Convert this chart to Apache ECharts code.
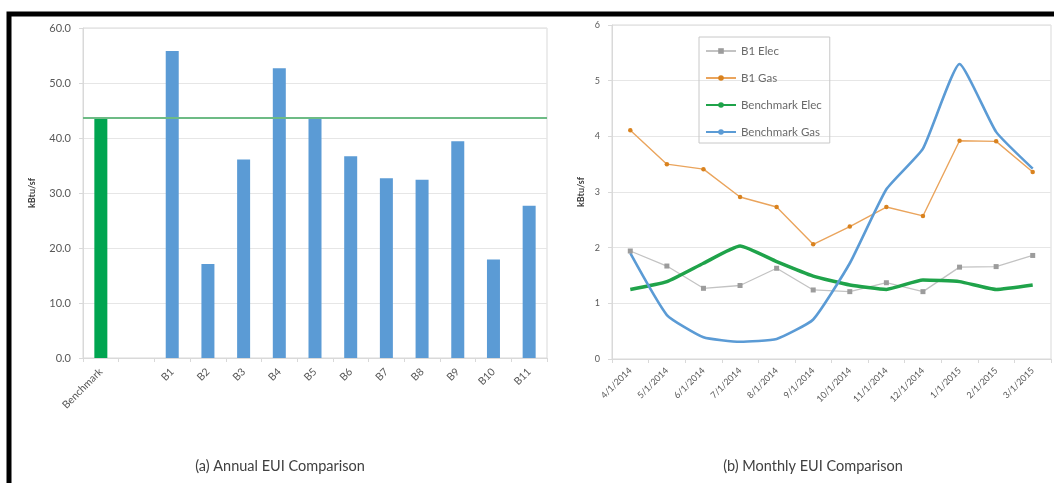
<!DOCTYPE html>
<html>
<head>
<meta charset="utf-8">
<script src="https://cdn.jsdelivr.net/npm/echarts@6/dist/echarts.min.js"></script>
<style>
html,body{margin:0;padding:0;background:#fff;}
#chart{width:1054px;height:483px;}
</style>
</head>
<body>
<div id="chart"></div>
<script>
// ---- Data ----
const annualCategories = ['Benchmark', '', 'B1', 'B2', 'B3', 'B4', 'B5', 'B6', 'B7', 'B8', 'B9', 'B10', 'B11'];
const annualValues = [43.7, null, 55.8, 17.1, 36.1, 52.7, 43.7, 36.7, 32.7, 32.4, 39.4, 17.9, 27.7];
const benchmarkAnnual = 43.7;
const annualTicks = [0, 10, 20, 30, 40, 50, 60];

const months = ['4/1/2014', '5/1/2014', '6/1/2014', '7/1/2014', '8/1/2014', '9/1/2014', '10/1/2014', '11/1/2014', '12/1/2014', '1/1/2015', '2/1/2015', '3/1/2015'];
const b1Elec = [1.94, 1.67, 1.27, 1.32, 1.63, 1.24, 1.21, 1.37, 1.21, 1.65, 1.66, 1.86];
const b1Gas = [4.11, 3.50, 3.41, 2.91, 2.73, 2.06, 2.38, 2.73, 2.57, 3.92, 3.91, 3.36];
const benchElec = [1.25, 1.39, 1.72, 2.03, 1.75, 1.49, 1.33, 1.25, 1.42, 1.39, 1.25, 1.33];
const benchGas = [1.90, 0.79, 0.39, 0.31, 0.36, 0.71, 1.72, 3.05, 3.78, 5.30, 4.08, 3.42];
const monthlyTicks = [0, 1, 2, 3, 4, 5, 6];

// ---- Styles ----
const FONT = 'Lato, "Open Sans", sans-serif';
const GRIDC = '#d9d9d9';
const LABELC = '#595959';
const GREEN_BAR = '#00a550';
const BLUE_BAR = '#5b9bd5';

const chart = echarts.init(document.getElementById('chart'));

const barData = annualValues.map((v, i) => ({
  value: v,
  itemStyle: { color: i === 0 ? GREEN_BAR : BLUE_BAR }
}));

const axisCommonY = {
  axisLine: { show: true, lineStyle: { color: GRIDC } },
  axisTick: { show: true, length: 4, lineStyle: { color: GRIDC } },
  splitLine: { show: true, lineStyle: { color: '#e6e6e6' } },
  nameLocation: 'middle',
  nameRotate: 90,
  nameTextStyle: { fontFamily: FONT, fontWeight: 'bold', fontSize: 9, color: '#404040' }
};

const option = {
  animation: false,
  backgroundColor: '#fff',
  grid: [
    { left: 83, top: 28, right: 507, bottom: 125, show: true, borderColor: GRIDC, borderWidth: 1 },
    { left: 612, top: 25, right: 3, bottom: 124, show: true, borderColor: GRIDC, borderWidth: 1 }
  ],
  xAxis: [
    {
      gridIndex: 0, type: 'category', data: annualCategories,
      axisLine: { lineStyle: { color: GRIDC } },
      axisTick: { show: true, length: 4, lineStyle: { color: GRIDC } },
      axisLabel: { rotate: 45, margin: 12, fontFamily: FONT, fontSize: 10.5, color: LABELC, interval: 0 }
    },
    {
      gridIndex: 1, type: 'category', data: months,
      axisLine: { lineStyle: { color: GRIDC } },
      axisTick: { show: true, length: 4, lineStyle: { color: GRIDC } },
      axisLabel: { rotate: 45, margin: 10, fontFamily: FONT, fontSize: 9, color: LABELC, interval: 0 }
    }
  ],
  yAxis: [
    Object.assign({}, axisCommonY, {
      gridIndex: 0, type: 'value', min: annualTicks[0], max: annualTicks[annualTicks.length - 1], interval: 10,
      name: 'kBtu/sf', nameGap: 46,
      axisLabel: { margin: 12, fontFamily: FONT, fontSize: 11, color: LABELC, formatter: v => v.toFixed(1) }
    }),
    Object.assign({}, axisCommonY, {
      gridIndex: 1, type: 'value', min: monthlyTicks[0], max: monthlyTicks[monthlyTicks.length - 1], interval: 1,
      name: 'kBtu/sf', nameGap: 26,
      axisLabel: { margin: 12, fontFamily: FONT, fontSize: 9, color: LABELC }
    })
  ],
  legend: {
    orient: 'vertical', left: 699, top: 37,
    padding: [8, 8, 5, 6], itemGap: 15, itemWidth: 30, itemHeight: 7,
    borderColor: '#c8c8c8', borderWidth: 1,
    textStyle: { fontFamily: FONT, fontSize: 11.5, color: '#6a6a6a' },
    data: ['B1 Elec', 'B1 Gas', 'Benchmark Elec', 'Benchmark Gas']
  },
  series: [
    {
      name: 'Annual EUI', type: 'bar', xAxisIndex: 0, yAxisIndex: 0,
      data: barData, barWidth: 13,
      markLine: {
        silent: true, symbol: 'none', label: { show: false },
        lineStyle: { color: '#6dbb85', width: 2, type: 'solid' },
        data: [{ yAxis: benchmarkAnnual }]
      },
      z: 2
    },
    {
      name: 'B1 Elec', type: 'line', xAxisIndex: 1, yAxisIndex: 1, data: b1Elec,
      symbol: 'rect', symbolSize: 5, showSymbol: true,
      lineStyle: { color: '#c3c3c3', width: 1.3 },
      itemStyle: { color: '#9c9c9c' }
    },
    {
      name: 'B1 Gas', type: 'line', xAxisIndex: 1, yAxisIndex: 1, data: b1Gas,
      symbol: 'circle', symbolSize: 4.5,
      lineStyle: { color: '#eaa45c', width: 1.4 },
      itemStyle: { color: '#d9821e' }
    },
    {
      name: 'Benchmark Elec', type: 'line', xAxisIndex: 1, yAxisIndex: 1, data: benchElec,
      symbol: 'none', smooth: 0.15,
      lineStyle: { color: '#1fa34a', width: 3.5 },
      itemStyle: { color: '#1fa34a' }
    },
    {
      name: 'Benchmark Gas', type: 'line', xAxisIndex: 1, yAxisIndex: 1, data: benchGas,
      symbol: 'none', smooth: 0.15,
      lineStyle: { color: '#5b9bd5', width: 2.6 },
      itemStyle: { color: '#5b9bd5' }
    }
  ],
  graphic: [
    {
      type: 'rect', silent: true,
      shape: { x: 9, y: 14, width: 1200, height: 800 },
      style: { fill: 'none', stroke: '#000', lineWidth: 5 }
    },
    {
      type: 'text', x: 280, y: 466,
      style: { text: '(a) Annual EUI Comparison', align: 'center', verticalAlign: 'middle', fontFamily: FONT, fontSize: 14.5, fill: '#404040' }
    },
    {
      type: 'text', x: 813, y: 466,
      style: { text: '(b) Monthly EUI Comparison', align: 'center', verticalAlign: 'middle', fontFamily: FONT, fontSize: 14.5, fill: '#404040' }
    }
  ]
};

chart.setOption(option);
</script>
</body>
</html>
